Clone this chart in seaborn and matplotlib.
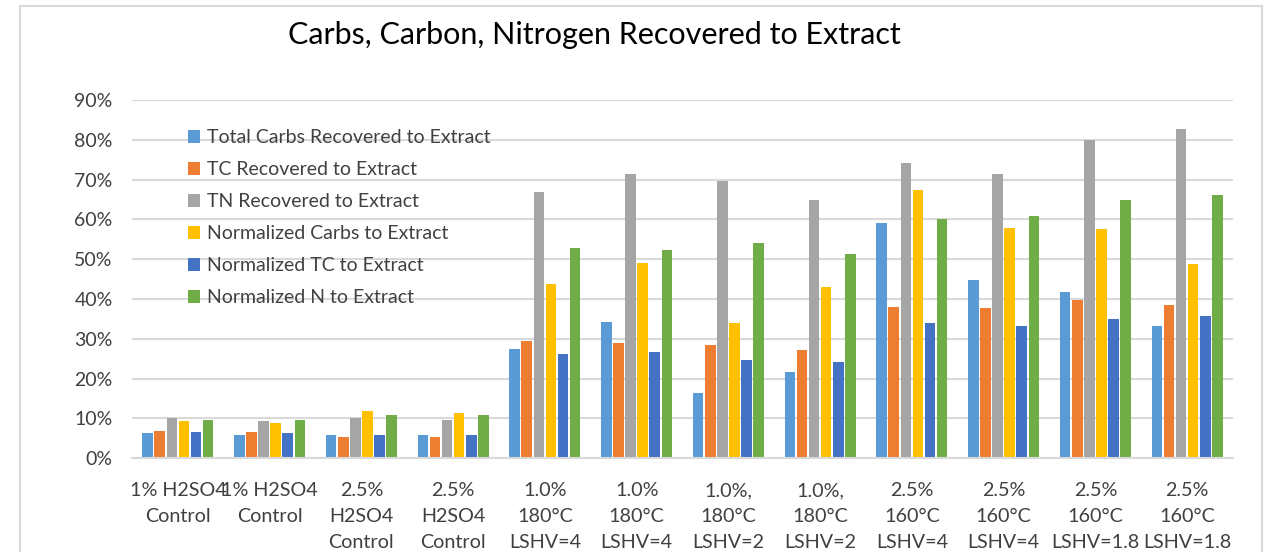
import matplotlib
matplotlib.use("Agg")
import matplotlib.pyplot as plt
import seaborn as sns
import pandas as pd
from matplotlib.patches import Rectangle
from matplotlib.ticker import PercentFormatter

# Treatment conditions (x axis)
conditions = [
    "1% H2SO4\nControl",
    "1% H2SO4\nControl",
    "2.5%\nH2SO4\nControl",
    "2.5%\nH2SO4\nControl",
    "1.0%\n180°C\nLSHV=4",
    "1.0%\n180°C\nLSHV=4",
    "1.0%,\n180°C\nLSHV=2",
    "1.0%,\n180°C\nLSHV=2",
    "2.5%\n160°C\nLSHV=4",
    "2.5%\n160°C\nLSHV=4",
    "2.5%\n160°C\nLSHV=1.8",
    "2.5%\n160°C\nLSHV=1.8",
]

series_names = [
    "Total Carbs Recovered to Extract",
    "TC Recovered to Extract",
    "TN Recovered to Extract",
    "Normalized Carbs to Extract",
    "Normalized TC to Extract",
    "Normalized N to Extract",
]

# Recovery fractions per condition
total_carbs = [0.063, 0.059, 0.059, 0.059, 0.275, 0.342, 0.163, 0.216, 0.590, 0.447, 0.418, 0.333]
tc_recovered = [0.069, 0.066, 0.054, 0.054, 0.295, 0.289, 0.284, 0.272, 0.380, 0.377, 0.398, 0.386]
tn_recovered = [0.100, 0.094, 0.100, 0.097, 0.668, 0.713, 0.696, 0.648, 0.742, 0.713, 0.800, 0.827]
norm_carbs = [0.094, 0.089, 0.118, 0.115, 0.439, 0.491, 0.339, 0.430, 0.675, 0.579, 0.575, 0.488]
norm_tc = [0.065, 0.063, 0.059, 0.059, 0.261, 0.266, 0.246, 0.243, 0.339, 0.333, 0.351, 0.357]
norm_n = [0.097, 0.097, 0.109, 0.109, 0.529, 0.523, 0.540, 0.512, 0.602, 0.608, 0.649, 0.661]

palette = ["#5B9BD5", "#ED7D31", "#A5A5A5", "#FFC000", "#4472C4", "#70AD47"]

values = [total_carbs, tc_recovered, tn_recovered, norm_carbs, norm_tc, norm_n]
rows = []
for name, vals in zip(series_names, values):
    for i, v in enumerate(vals):
        rows.append({"pos": i, "series": name, "value": v})
df = pd.DataFrame(rows)

sns.set_theme(style="white")
font = ["Lato", "DejaVu Sans"]
plt.rcParams["font.family"] = font

fig = plt.figure(figsize=(12.76, 5.52), dpi=100)
fig.patch.set_facecolor("white")

# Outer chart border
fig.patches.append(Rectangle((20 / 1276, -0.1), (1262 - 20) / 1276, 1.1 - 6 / 552,
                             transform=fig.transFigure, fill=False,
                             edgecolor="#D9D9D9", linewidth=1.5, zorder=0))

ax = fig.add_axes([132 / 1276, 1 - 458.3 / 552, (1233 - 132) / 1276, (458.3 - 100) / 552])

sns.barplot(data=df, x="pos", y="value", hue="series", hue_order=series_names,
            palette=palette, width=0.79, gap=0.13, saturation=1.0,
            linewidth=0, ax=ax, legend=True, native_scale=False)

ax.set_ylim(0, 0.9)
ax.set_yticks([i / 10 for i in range(10)])
ax.yaxis.set_major_formatter(PercentFormatter(1.0, decimals=0))
ax.set_xlim(-0.5, len(conditions) - 0.5)
ax.set_xticks(range(len(conditions)))
ax.set_xticklabels(conditions, fontsize=14.2, color="#404040", linespacing=1.65)
ax.tick_params(axis="y", labelsize=14, labelcolor="#404040", pad=14, length=0)
ax.tick_params(axis="x", pad=17, length=0)
ax.set_xlabel("")
ax.set_ylabel("")

ax.grid(axis="y", color="#D9D9D9", linewidth=1.5)
ax.set_axisbelow(True)
for side in ["left", "right", "top"]:
    ax.spines[side].set_visible(False)
ax.spines["bottom"].set_color("#D9D9D9")
ax.spines["bottom"].set_linewidth(1.5)

leg = ax.legend(loc="upper left", bbox_to_anchor=(0.0435, 0.94), frameon=False,
                fontsize=14, handlelength=0.65, handleheight=0.65,
                handletextpad=0.36, labelspacing=0.77, borderaxespad=0)
for t in leg.get_texts():
    t.set_color("#404040")

fig.text(594 / 1276, 1 - 35 / 552, "Carbs, Carbon, Nitrogen Recovered to Extract",
         ha="center", va="center", fontsize=22, color="#000000")

fig.savefig("out.png", dpi=100)
